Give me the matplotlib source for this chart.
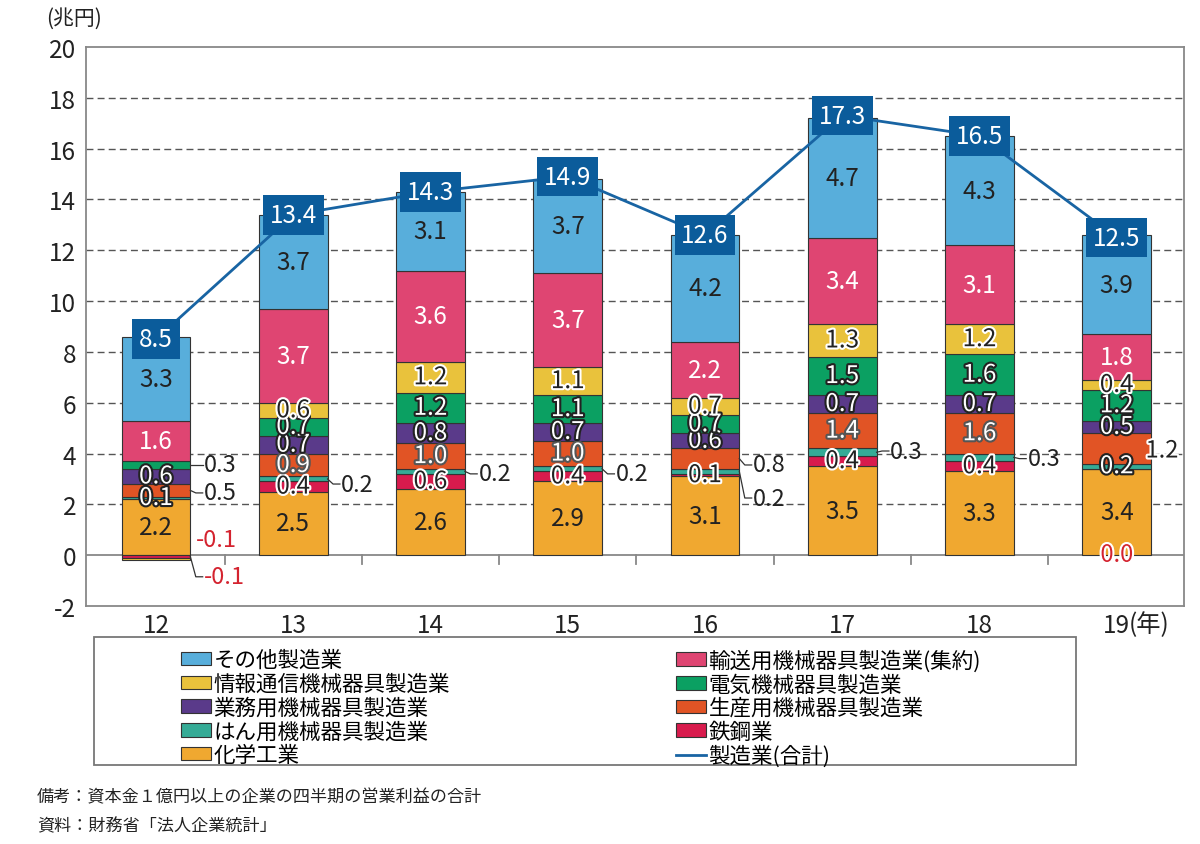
import matplotlib
matplotlib.use('Agg')
import matplotlib.pyplot as plt
import matplotlib.patheffects as pe
from matplotlib.patches import Patch, Rectangle
from matplotlib.lines import Line2D
import numpy as np

plt.rcParams['font.family'] = ['Noto Sans CJK JP', 'DejaVu Sans']

# data (兆円), bottom to top of the stack
years = ['12', '13', '14', '15', '16', '17', '18', '19']
chem = [2.2, 2.5, 2.6, 2.9, 3.1, 3.5, 3.3, 3.4]
steel = [-0.1, 0.4, 0.6, 0.4, 0.1, 0.4, 0.4, 0.0]
general = [0.1, 0.2, 0.2, 0.2, 0.2, 0.3, 0.3, 0.2]
production = [0.5, 0.9, 1.0, 1.0, 0.8, 1.4, 1.6, 1.2]
business = [0.6, 0.7, 0.8, 0.7, 0.6, 0.7, 0.7, 0.5]
electric = [0.3, 0.7, 1.2, 1.1, 0.7, 1.5, 1.6, 1.2]
info = [-0.1, 0.6, 1.2, 1.1, 0.7, 1.3, 1.2, 0.4]
transport = [1.6, 3.7, 3.6, 3.7, 2.2, 3.4, 3.1, 1.8]
other = [3.3, 3.7, 3.1, 3.7, 4.2, 4.7, 4.3, 3.9]
total = [8.5, 13.4, 14.3, 14.9, 12.6, 17.3, 16.5, 12.5]

names = ['化学工業', '鉄鋼業', 'はん用機械器具製造業', '生産用機械器具製造業',
         '業務用機械器具製造業', '電気機械器具製造業', '情報通信機械器具製造業',
         '輸送用機械器具製造業（集約）', 'その他製造業']
series = [chem, steel, general, production, business, electric, info, transport, other]
colors = ['#f0a830', '#d81b4d', '#35ab96', '#e15425', '#5a3a8a',
          '#0ba062', '#e9c23c', '#df4572', '#58aedb']
# text colour, outline colour (None = no outline) for labels inside the bars
label_style = [('#222222', None), ('#222222', 'white'), ('white', '#222222'),
               ('white', '#555555'), ('white', '#222222'), ('white', '#222222'),
               ('#222222', 'white'), ('white', None), ('#222222', None)]

# labels drawn beside the bar: (year index, series index, text y, leader line)
outside = [(0, 5, 3.55, True), (0, 3, 2.45, True), (0, 6, 0.6, False),
           (0, 1, -0.85, True), (1, 2, 2.8, True), (2, 2, 3.2, True),
           (3, 2, 3.2, True), (4, 3, 3.55, True), (4, 2, 2.25, True),
           (5, 2, 4.1, True), (6, 2, 3.8, True)]

red = '#d4232f'
line_color = '#1864a3'
box_color = '#0b5c9b'

fig = plt.figure(figsize=(12, 8.45), dpi=100)
ax = fig.add_axes([86 / 1200, 1 - 607 / 845, 1098 / 1200, 559 / 845])

x = np.arange(len(years))
width = 0.5
pos_base = np.zeros(len(years))
neg_base = np.zeros(len(years))
bottoms = []
for vals, col in zip(series, colors):
    v = np.array(vals)
    b = np.where(v >= 0, pos_base, neg_base)
    ax.bar(x, v, width, bottom=b, color=col, edgecolor='#333333', linewidth=0.8, zorder=3)
    bottoms.append(b)
    pos_base = pos_base + np.where(v > 0, v, 0)
    neg_base = neg_base + np.where(v < 0, v, 0)

outside_keys = {(o[0], o[1]): o for o in outside}
outline_white = [pe.withStroke(linewidth=3, foreground='white')]

for s, vals in enumerate(series):
    for i, v in enumerate(vals):
        mid = bottoms[s][i] + v / 2
        txt = f'{v:.1f}'
        if (i, s) == (7, 3):
            # 19: 生産用 label sits on the right edge of the bar
            ax.text(i + width / 2 - 0.04, 4.1, txt, ha='left', va='center',
                    fontsize=17, color='#222222', zorder=7, path_effects=outline_white)
            continue
        if (i, s) in outside_keys:
            _, _, ty, leader = outside_keys[(i, s)]
            edge = i + width / 2
            if leader:
                ax.plot([edge, edge + 0.04, edge + 0.09], [mid, ty, ty],
                        color='#333333', lw=0.9, zorder=4)
                tx = edge + 0.1
            else:
                tx = edge + 0.04
            ax.text(tx, ty, txt, ha='left', va='center', fontsize=17,
                    color=red if v <= 0 else '#222222', zorder=6)
            continue
        if v == 0:
            ax.text(i, 0, txt, ha='center', va='center', fontsize=17, color=red,
                    zorder=6, path_effects=outline_white)
            continue
        fc, oc = label_style[s]
        effects = [pe.withStroke(linewidth=3, foreground=oc)] if oc else None
        ax.text(i, mid, txt, ha='center', va='center', fontsize=17.5, color=fc,
                zorder=6, path_effects=effects)

# total line and boxes
ax.plot(x, total, color=line_color, lw=2, zorder=7)
for i, t in enumerate(total):
    ax.text(i, t, f'{t:.1f}', ha='center', va='center', fontsize=17.5, color='white',
            zorder=8, bbox=dict(boxstyle='square,pad=0.28', facecolor=box_color,
                                edgecolor='none'))

# axes styling
ax.set_xlim(-0.51, 7.49)
ax.set_ylim(-2, 20)
ax.set_yticks(np.arange(-2, 21, 2))
ax.set_yticklabels([str(v) for v in range(-2, 21, 2)])
ax.set_xticks(x)
ax.set_xticklabels(years)
ax.tick_params(axis='both', length=0, labelsize=17.5, colors='#222222')
ax.tick_params(axis='y', pad=7)
ax.tick_params(axis='x', pad=4)
for sp in ax.spines.values():
    sp.set_color('#888888')
    sp.set_linewidth(1.3)
for yv in range(2, 20, 2):
    ax.axhline(yv, color='#555555', lw=1, dashes=(5, 3), zorder=1)
ax.axhline(0, color='#888888', lw=1.3, zorder=2)
for xm in np.arange(0.5, 7, 1):
    ax.plot([xm, xm], [0, -0.35], color='#888888', lw=1.3, zorder=2)

ax.annotate('(年)', xy=(7, 0), xycoords=('data', 'axes fraction'), xytext=(9, -4),
            textcoords='offset points', ha='left', va='top', fontsize=17.5, color='#222222')
fig.text(46 / 1200, 1 - 19 / 845, '(兆円)', ha='left', va='center', fontsize=15, color='#222222')

# legend
handles = [Patch(facecolor=c, edgecolor='#333333', linewidth=0.8) for c in colors]
left_idx = [8, 6, 4, 2, 0]
right_idx = [7, 5, 3, 1]
common = dict(frameon=False, fontsize=15.5, handlelength=1.4, handleheight=0.6,
              handletextpad=0.1, labelspacing=0.08, borderpad=0.3, loc='upper left')
fig.legend([handles[k] for k in left_idx], [names[k] for k in left_idx],
           bbox_to_anchor=(164 / 1200, 1 - 633 / 845), **common)
right_labels = [names[k].replace('（集約）', '(集約)') for k in right_idx] + ['製造業(合計)']
right_handles = [handles[k] for k in right_idx] + [Line2D([], [], color=line_color, lw=2)]
fig.legend(right_handles, right_labels,
           bbox_to_anchor=(659 / 1200, 1 - 633 / 845), **common)
fig.add_artist(Rectangle((94 / 1200, 1 - 766 / 845), 982 / 1200, 128 / 845,
                         transform=fig.transFigure, fill=False, edgecolor='#777777', lw=1.3))

fig.text(37 / 1200, 1 - 797 / 845, '備考：資本金１億円以上の企業の四半期の営業利益の合計',
         ha='left', va='center', fontsize=12.3, color='#222222')
fig.text(37 / 1200, 1 - 826 / 845, '資料：財務省「法人企業統計」',
         ha='left', va='center', fontsize=12.3, color='#222222')

fig.savefig('out.png', dpi=100)
